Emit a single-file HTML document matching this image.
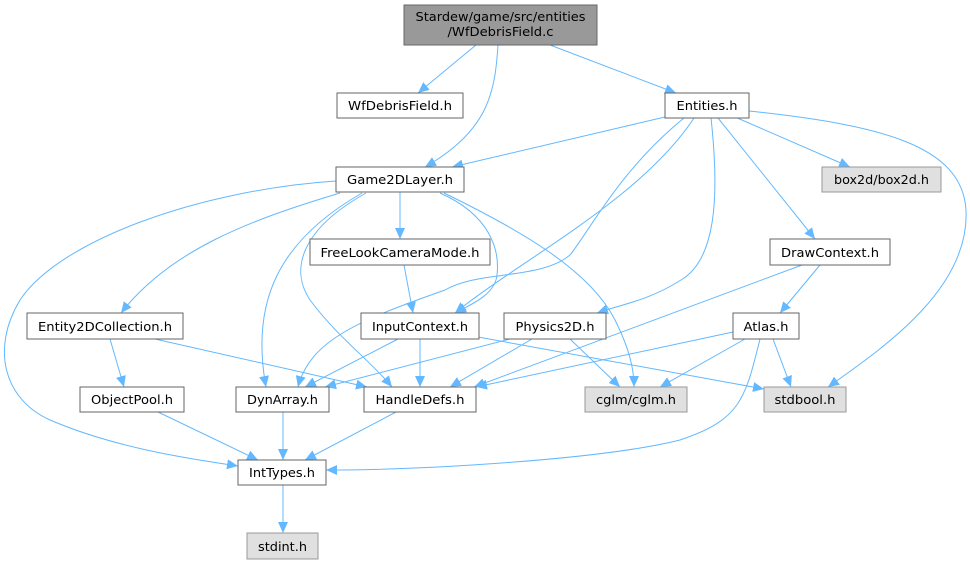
<!DOCTYPE html>
<html><head><meta charset="utf-8"><style>
html,body{margin:0;padding:0;background:#fff;width:970px;height:564px;overflow:hidden}
text{font-family:"DejaVu Sans","Liberation Sans",sans-serif;font-size:12px;fill:#000}
</style></head><body>
<svg width="970" height="564" viewBox="0 0 970 564" xmlns="http://www.w3.org/2000/svg">
<defs>
<marker id="a" markerUnits="userSpaceOnUse" markerWidth="12" markerHeight="10" refX="11" refY="5" orient="auto">
<path d="M0,0 L11,5 L0,10 z" fill="#63b8ff"/>
</marker>
</defs>
<g fill="none" stroke="#63b8ff" stroke-width="1" marker-end="url(#a)">
<path d="M476,45 L418,93"/>
<path d="M498,45 C495,90 490,130 425,167"/>
<path d="M550,45 L676,93"/>
<path d="M665,117 L452,167"/>
<path d="M735,117 L850,167"/>
<path d="M718,118 L815,239"/>
<path d="M749,111 C880,125 962,145 966,210 C970,290 880,350 828,387"/>
<path d="M684,118 C620,170 590,230 570,255 C540,280 480,270 445,290 C360,320 310,340 298,387"/>
<path d="M694,118 C640,200 520,260 455,313"/>
<path d="M711,118 C720,200 715,260 681,280 C650,300 620,305 597,313"/>
<path d="M400,192 L400,239"/>
<path d="M340,193 C250,220 170,250 121,313"/>
<path d="M336,181 C200,190 60,240 20,300 C-10,350 5,400 50,420 C120,450 200,460 238,466"/>
<path d="M362,193 C280,240 250,300 266,387"/>
<path d="M366,193 C300,230 290,270 310,300 C340,340 370,360 392,387"/>
<path d="M440,193 C490,215 500,250 497,275 C495,295 470,305 455,313"/>
<path d="M444,193 C520,230 590,270 615,320 C630,350 634,370 634,387"/>
<path d="M404,265 L413,313"/>
<path d="M802,265 L474,387"/>
<path d="M820,265 L780,313"/>
<path d="M110,339 L124,387"/>
<path d="M155,339 L367,387"/>
<path d="M398,339 L305,387"/>
<path d="M420,339 L420,387"/>
<path d="M478,337 L764,389"/>
<path d="M510,339 L325,387"/>
<path d="M532,339 L450,387"/>
<path d="M570,339 L620,387"/>
<path d="M733,332 L476,387"/>
<path d="M745,339 L660,387"/>
<path d="M773,339 L791,387"/>
<path d="M760,339 C745,400 740,420 680,440 C600,460 420,470 326,470"/>
<path d="M158,412 L258,460"/>
<path d="M283,412 L283,460"/>
<path d="M396,412 L305,460"/>
<path d="M283,485 L283,533"/>
</g>
<g stroke-width="1">
<rect x="404" y="5" width="193" height="40" fill="#999999" stroke="#666666"/>
<rect x="337" y="93" width="126" height="25" fill="#fff" stroke="#666666"/>
<rect x="665" y="93" width="84" height="25" fill="#fff" stroke="#666666"/>
<rect x="336" y="167" width="128" height="25" fill="#fff" stroke="#666666"/>
<rect x="822" y="167" width="119" height="25" fill="#e0e0e0" stroke="#999999"/>
<rect x="310" y="239" width="180" height="26" fill="#fff" stroke="#666666"/>
<rect x="770" y="239" width="120" height="26" fill="#fff" stroke="#666666"/>
<rect x="27" y="313" width="156" height="26" fill="#fff" stroke="#666666"/>
<rect x="361" y="313" width="118" height="26" fill="#fff" stroke="#666666"/>
<rect x="504" y="313" width="102" height="26" fill="#fff" stroke="#666666"/>
<rect x="733" y="313" width="66" height="26" fill="#fff" stroke="#666666"/>
<rect x="80" y="387" width="104" height="25" fill="#fff" stroke="#666666"/>
<rect x="236" y="387" width="93" height="25" fill="#fff" stroke="#666666"/>
<rect x="364" y="387" width="112" height="25" fill="#fff" stroke="#666666"/>
<rect x="585" y="387" width="102" height="25" fill="#e0e0e0" stroke="#999999"/>
<rect x="764" y="387" width="82" height="25" fill="#e0e0e0" stroke="#999999"/>
<rect x="238" y="460" width="88" height="25" fill="#fff" stroke="#666666"/>
<rect x="247" y="533" width="71" height="26" fill="#e0e0e0" stroke="#999999"/>
</g>
<g text-anchor="middle">
<text x="500.5" y="21" textLength="170" lengthAdjust="spacingAndGlyphs">Stardew/game/src/entities</text>
<text x="500.5" y="36" textLength="106" lengthAdjust="spacingAndGlyphs">/WfDebrisField.c</text>
<text x="400" y="110" textLength="104" lengthAdjust="spacingAndGlyphs">WfDebrisField.h</text>
<text x="707" y="110" textLength="61" lengthAdjust="spacingAndGlyphs">Entities.h</text>
<text x="400" y="184" textLength="106" lengthAdjust="spacingAndGlyphs">Game2DLayer.h</text>
<text x="881.5" y="184" textLength="95" lengthAdjust="spacingAndGlyphs">box2d/box2d.h</text>
<text x="400" y="257" textLength="159" lengthAdjust="spacingAndGlyphs">FreeLookCameraMode.h</text>
<text x="830" y="257" textLength="98" lengthAdjust="spacingAndGlyphs">DrawContext.h</text>
<text x="105" y="331" textLength="134" lengthAdjust="spacingAndGlyphs">Entity2DCollection.h</text>
<text x="420" y="331" textLength="96" lengthAdjust="spacingAndGlyphs">InputContext.h</text>
<text x="555" y="331" textLength="79" lengthAdjust="spacingAndGlyphs">Physics2D.h</text>
<text x="766" y="331" textLength="45" lengthAdjust="spacingAndGlyphs">Atlas.h</text>
<text x="132" y="404" textLength="82" lengthAdjust="spacingAndGlyphs">ObjectPool.h</text>
<text x="282.5" y="404" textLength="71" lengthAdjust="spacingAndGlyphs">DynArray.h</text>
<text x="420" y="404" textLength="89" lengthAdjust="spacingAndGlyphs">HandleDefs.h</text>
<text x="636" y="404" textLength="80" lengthAdjust="spacingAndGlyphs">cglm/cglm.h</text>
<text x="805" y="404" textLength="61" lengthAdjust="spacingAndGlyphs">stdbool.h</text>
<text x="282" y="477" textLength="66" lengthAdjust="spacingAndGlyphs">IntTypes.h</text>
<text x="282.5" y="551" textLength="49" lengthAdjust="spacingAndGlyphs">stdint.h</text>
</g>
</svg>
</body></html>
